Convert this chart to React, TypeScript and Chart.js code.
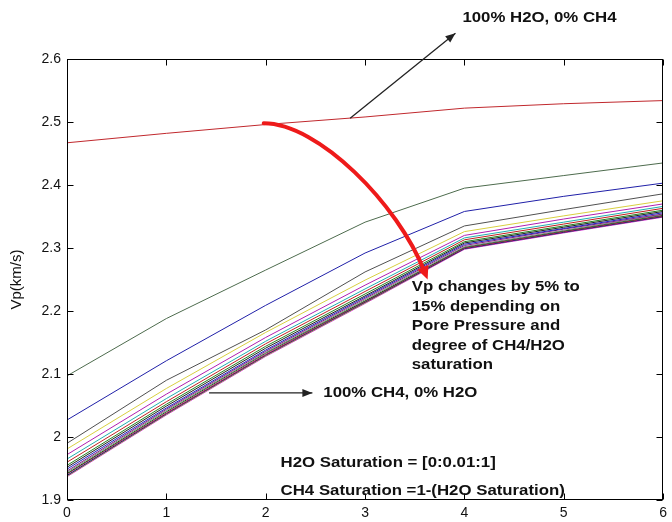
import { useEffect, useRef } from "react";
import { Chart, registerables } from "chart.js";

Chart.register(...registerables);

// ---- data ----
const xValues = [0, 1, 2, 3, 4, 5, 6];
const xTickValues = [0, 1, 2, 3, 4, 5, 6];
const yTickValues = [1.9, 2.0, 2.1, 2.2, 2.3, 2.4, 2.5, 2.6];

// 100% H2O, 0% CH4
const vpWater100 = [2.467, 2.482, 2.496, 2.508, 2.522, 2.529, 2.534];
// partially saturated curves (top to bottom)
const vpS01 = [2.097, 2.188, 2.265, 2.341, 2.395, 2.415, 2.435];
const vpS02 = [2.027, 2.121, 2.209, 2.292, 2.358, 2.382, 2.403];
const vpS03 = [1.99, 2.09, 2.17, 2.262, 2.335, 2.361, 2.386];
const vpS04 = [1.981, 2.077, 2.166, 2.249, 2.326, 2.351, 2.375];
const vpS05 = [1.972, 2.068, 2.158, 2.241, 2.32, 2.346, 2.37];
const vpS06 = [1.965, 2.061, 2.152, 2.235, 2.316, 2.341, 2.366];
const vpS07 = [1.96, 2.056, 2.148, 2.231, 2.313, 2.338, 2.363];
const vpS08 = [1.955, 2.052, 2.144, 2.227, 2.31, 2.335, 2.36];
const vpS09 = [1.952, 2.049, 2.141, 2.224, 2.308, 2.333, 2.358];
const vpS10 = [1.949, 2.046, 2.138, 2.222, 2.306, 2.331, 2.356];
const vpS11 = [1.946, 2.044, 2.136, 2.22, 2.304, 2.33, 2.354];
const vpS12 = [1.944, 2.042, 2.134, 2.218, 2.302, 2.328, 2.353];
const vpS13 = [1.942, 2.04, 2.133, 2.216, 2.301, 2.327, 2.352];
const vpS14 = [1.941, 2.038, 2.131, 2.215, 2.3, 2.326, 2.351];
const vpS15 = [1.939, 2.037, 2.13, 2.214, 2.299, 2.325, 2.35];
const vpS16 = [1.938, 2.036, 2.129, 2.213, 2.299, 2.325, 2.35];
const vpS17 = [1.937, 2.035, 2.128, 2.212, 2.298, 2.324, 2.349];

const seriesValues = [
  vpWater100, vpS01, vpS02, vpS03, vpS04, vpS05, vpS06, vpS07, vpS08, vpS09,
  vpS10, vpS11, vpS12, vpS13, vpS14, vpS15, vpS16, vpS17,
];
const seriesColors = [
  "#c0282d", "#4d6b4d", "#2020a8", "#505050", "#d8d040", "#b020b0", "#20b0b0",
  "#c02020", "#208020", "#202020", "#2020c0", "#802080", "#808080", "#106010",
  "#c01060", "#101080", "#90c020", "#d020d0",
];

// annotation texts
const noteTop = "100% H2O, 0% CH4";
const noteBottom = "100% CH4, 0% H2O";
const noteVp = [
  "Vp changes by 5% to",
  "15% depending on",
  "Pore Pressure and",
  "degree of CH4/H2O",
  "saturation",
];
const noteSatH2O = "H2O Saturation = [0:0.01:1]";
const noteSatCH4 = "CH4 Saturation =1-(H2O Saturation)";
const yTitle = "Vp(km/s)";

const FONT_BOLD = "bold 15px 'Liberation Sans', Arial, sans-serif";
const TEXT_SX = 1.12;

function drawArrowHead(ctx: CanvasRenderingContext2D, x: number, y: number, ang: number, len: number, wid: number) {
  ctx.beginPath();
  ctx.moveTo(x, y);
  ctx.lineTo(x - len * Math.cos(ang) + wid * Math.sin(ang), y - len * Math.sin(ang) - wid * Math.cos(ang));
  ctx.lineTo(x - len * Math.cos(ang) - wid * Math.sin(ang), y - len * Math.sin(ang) + wid * Math.cos(ang));
  ctx.closePath();
  ctx.fill();
}

function drawText(ctx: CanvasRenderingContext2D, text: string, x: number, y: number) {
  ctx.save();
  ctx.translate(x, y);
  ctx.scale(TEXT_SX, 1);
  ctx.font = FONT_BOLD;
  ctx.fillStyle = "#111";
  ctx.textAlign = "left";
  ctx.textBaseline = "middle";
  ctx.fillText(text, 0, 0);
  ctx.restore();
}

const framePlugin = {
  id: "matlabFrame",
  afterDatasetsDraw(chart: any) {
    const { ctx, chartArea: a, scales } = chart;
    const xs = scales.x;
    const ys = scales.y;
    ctx.save();
    ctx.strokeStyle = "#000";
    ctx.lineWidth = 1;
    const L = Math.round(a.left) + 0.5;
    const R = Math.round(a.right) - 0.5;
    const T = Math.round(a.top) + 0.5;
    const B = Math.round(a.bottom) - 0.5;
    ctx.strokeRect(L, T, R - L, B - T);
    const tl = 6;
    ctx.beginPath();
    xTickValues.forEach((v) => {
      const px = Math.round(xs.getPixelForValue(v)) + 0.5;
      ctx.moveTo(px, B);
      ctx.lineTo(px, B - tl);
      ctx.moveTo(px, T);
      ctx.lineTo(px, T + tl);
    });
    yTickValues.forEach((v) => {
      const py = Math.round(ys.getPixelForValue(v)) + 0.5;
      ctx.moveTo(L, py);
      ctx.lineTo(L + tl, py);
      ctx.moveTo(R, py);
      ctx.lineTo(R - tl, py);
    });
    ctx.stroke();
    ctx.restore();
  },
  afterDraw(chart: any) {
    const { ctx, scales } = chart;
    const X = (v: number) => scales.x.getPixelForValue(v);
    const Y = (v: number) => scales.y.getPixelForValue(v);
    ctx.save();

    // black arrow to top note
    ctx.strokeStyle = "#222";
    ctx.fillStyle = "#222";
    ctx.lineWidth = 1.3;
    let x1 = X(2.85), y1 = Y(2.506), x2 = X(3.91), y2 = Y(2.641);
    ctx.beginPath();
    ctx.moveTo(x1, y1);
    ctx.lineTo(x2, y2);
    ctx.stroke();
    drawArrowHead(ctx, x2, y2, Math.atan2(y2 - y1, x2 - x1), 10, 4);
    drawText(ctx, noteTop, X(3.98), Y(2.665));

    // black arrow to bottom note
    x1 = X(1.43); y1 = Y(2.07); x2 = X(2.47); y2 = Y(2.07);
    ctx.beginPath();
    ctx.moveTo(x1, y1);
    ctx.lineTo(x2, y2);
    ctx.stroke();
    drawArrowHead(ctx, x2, y2, 0, 10, 4);
    drawText(ctx, noteBottom, X(2.58), Y(2.07));

    // red curved arrow
    const p0x = X(1.98), p0y = Y(2.498);
    const c1x = X(2.53), c1y = Y(2.498);
    const c2x = X(3.33), c2y = Y(2.37);
    const p3x = X(3.6), p3y = Y(2.262);
    ctx.strokeStyle = "#ee1a1a";
    ctx.fillStyle = "#ee1a1a";
    ctx.lineWidth = 4;
    ctx.lineCap = "round";
    ctx.beginPath();
    ctx.moveTo(p0x, p0y);
    ctx.bezierCurveTo(c1x, c1y, c2x, c2y, p3x, p3y);
    ctx.stroke();
    const ang = Math.atan2(p3y - c2y, p3x - c2x);
    drawArrowHead(ctx, p3x + 8 * Math.cos(ang), p3y + 8 * Math.sin(ang), ang, 13, 6);

    // Vp text block
    const vx = X(3.47);
    let vy = Y(2.238);
    noteVp.forEach((line) => {
      drawText(ctx, line, vx, vy);
      vy += 19.5;
    });

    drawText(ctx, noteSatH2O, X(2.15), Y(1.959));
    drawText(ctx, noteSatCH4, X(2.15), Y(1.914));
    ctx.restore();
  },
};

export default function App() {
  const canvasRef = useRef<HTMLCanvasElement | null>(null);

  useEffect(() => {
    document.body.style.margin = "0";
    const canvas = canvasRef.current;
    if (!canvas) return;
    const datasets = seriesValues.map((vals, i) => ({
      label: i === 0 ? "100% H2O" : `S${i}`,
      data: vals.map((v, j) => ({ x: xValues[j], y: v })),
      borderColor: seriesColors[i],
      backgroundColor: seriesColors[i],
      borderWidth: 1,
      pointRadius: 0,
      tension: 0,
      fill: false,
    }));
    const chart = new Chart(canvas, {
      type: "line",
      data: { datasets },
      options: {
        animation: false,
        responsive: false,
        devicePixelRatio: 1,
        layout: { padding: { left: 0, right: 5, top: 59, bottom: 0 } },
        plugins: { legend: { display: false }, tooltip: { enabled: false } },
        scales: {
          x: {
            type: "linear",
            min: 0,
            max: 6,
            afterBuildTicks: (s: any) => {
              s.ticks = xTickValues.map((v) => ({ value: v }));
            },
            afterFit: (s: any) => {
              s.height = 22;
            },
            grid: { display: false, drawTicks: false },
            border: { display: false },
            ticks: {
              color: "#111",
              padding: 5,
              font: { family: "'Liberation Sans', Arial, sans-serif", size: 14 },
              maxRotation: 0,
              callback: (v: any) => String(v),
            },
          },
          y: {
            type: "linear",
            min: 1.9,
            max: 2.6,
            afterBuildTicks: (s: any) => {
              s.ticks = yTickValues.map((v) => ({ value: v }));
            },
            afterFit: (s: any) => {
              s.width = 67;
            },
            grid: { display: false, drawTicks: false },
            border: { display: false },
            title: {
              display: true,
              text: yTitle,
              color: "#111",
              padding: { top: 8, bottom: 0 },
              font: { family: "'Liberation Sans', Arial, sans-serif", size: 15 },
            },
            ticks: {
              color: "#111",
              padding: 6,
              font: { family: "'Liberation Sans', Arial, sans-serif", size: 14 },
              callback: (v: any) => String(Math.round(Number(v) * 10) / 10),
            },
          },
        },
      },
      plugins: [framePlugin],
    });
    return () => chart.destroy();
  }, []);

  return (
    <div style={{ position: "absolute", left: 0, top: 0, width: 672, height: 522, background: "#fff" }}>
      <canvas ref={canvasRef} width={672} height={522} />
    </div>
  );
}
